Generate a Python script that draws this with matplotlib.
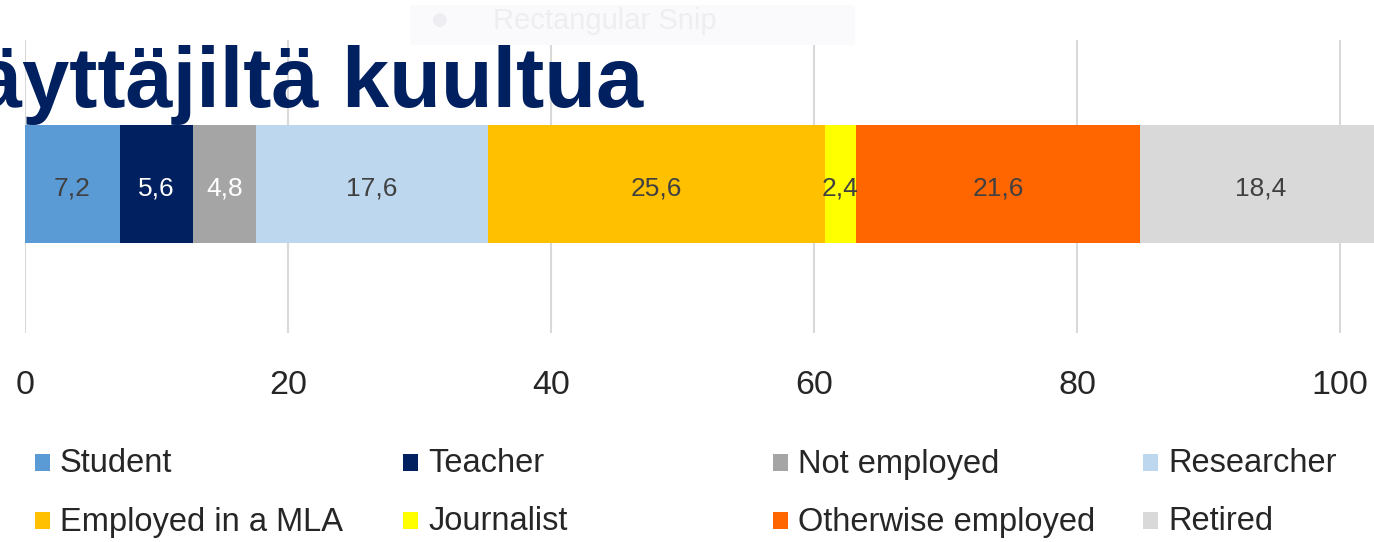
import matplotlib
matplotlib.use("Agg")
import matplotlib.pyplot as plt
from matplotlib.patches import Rectangle, FancyBboxPatch

categories = ["Student", "Teacher", "Not employed", "Researcher",
              "Employed in a MLA", "Journalist", "Otherwise employed", "Retired"]
values = [7.2, 5.6, 4.8, 17.6, 25.6, 2.4, 21.6, 18.4]
labels = ["7,2", "5,6", "4,8", "17,6", "25,6", "2,4", "21,6", "18,4"]
colors = ["#5B9BD5", "#002060", "#A5A5A5", "#BDD7EE",
          "#FFC000", "#FFFF00", "#FF6600", "#D9D9D9"]
label_colors = ["#404040", "#FFFFFF", "#FFFFFF", "#404040",
                "#404040", "#404040", "#404040", "#404040"]
xticks = [0, 20, 40, 60, 80, 100]
title_text = "äyttäjiltä kuultua"

FONT = "Liberation Sans"
W, H = 1374, 542
fig = plt.figure(figsize=(W / 100, H / 100), dpi=100)
fig.patch.set_facecolor("white")

# axes: x=0 at px 25, 13.15 px per unit, top px 40, bottom px 333
ax = fig.add_axes([25 / W, 1 - 333 / H, (W - 25) / W, (333 - 40) / H])
ax.set_xlim(0, (W - 25) / 13.15)
ax.set_ylim(-0.505, 0.488)

left = 0.0
for v, lab, c, lc in zip(values, labels, colors, label_colors):
    ax.barh(0, v, left=left, height=0.4, color=c, zorder=2)
    ax.text(left + v / 2, -0.015, lab, ha="center", va="center", color=lc,
            fontsize=19, family=FONT, zorder=3)
    left += v

for s in ax.spines.values():
    s.set_visible(False)
ax.set_yticks([])
ax.set_xticks(xticks)
ax.set_xticklabels([str(t) for t in xticks], fontsize=24.5, family=FONT, color="#262626")
ax.tick_params(axis="x", length=0, pad=27)
ax.xaxis.grid(True, color="#D9D9D9", linewidth=1.5, zorder=0)
ax.set_axisbelow(True)
for lab in ax.get_xticklabels():
    lab.set_clip_on(False)

# faint "Rectangular Snip" ghost overlay
box = FancyBboxPatch((410 / W, 1 - 45 / H), 445 / W, 40 / H,
                     boxstyle="round,pad=0,rounding_size=0.004",
                     transform=fig.transFigure, facecolor="#FAFAFC",
                     edgecolor="none", zorder=5)
fig.add_artist(box)
fig.text(440 / W, 1 - 20 / H, "\u25CF", fontsize=13, family="DejaVu Sans",
         color="#EEEEF2", ha="center", va="center", zorder=6)
fig.text(493 / W, 1 - 21 / H, "Rectangular Snip", fontsize=21, family=FONT,
         color="#EEEEF2", va="center", ha="left", zorder=6)

# title fragment
fig.text(643 / W, 1 - 107 / H, title_text, fontsize=61, family=FONT,
         fontweight="bold", color="#002060", ha="right", va="baseline", zorder=7)

# legend (4 columns x 2 rows)
col_sq = [35, 403, 773, 1143]
row_y = [463, 521]
for i, (cat, c) in enumerate(zip(categories, colors)):
    r, k = divmod(i, 4)
    x0 = col_sq[k]
    yc = row_y[r]
    fig.add_artist(Rectangle((x0 / W, 1 - (yc + 8) / H), 15 / W, 17 / H,
                             transform=fig.transFigure, facecolor=c,
                             edgecolor="none"))
    fig.text((x0 + 25) / W, 1 - (yc + 1) / H, cat, fontsize=23.5, family=FONT,
             color="#262626", ha="left", va="center")

fig.savefig("out.png", dpi=100)
